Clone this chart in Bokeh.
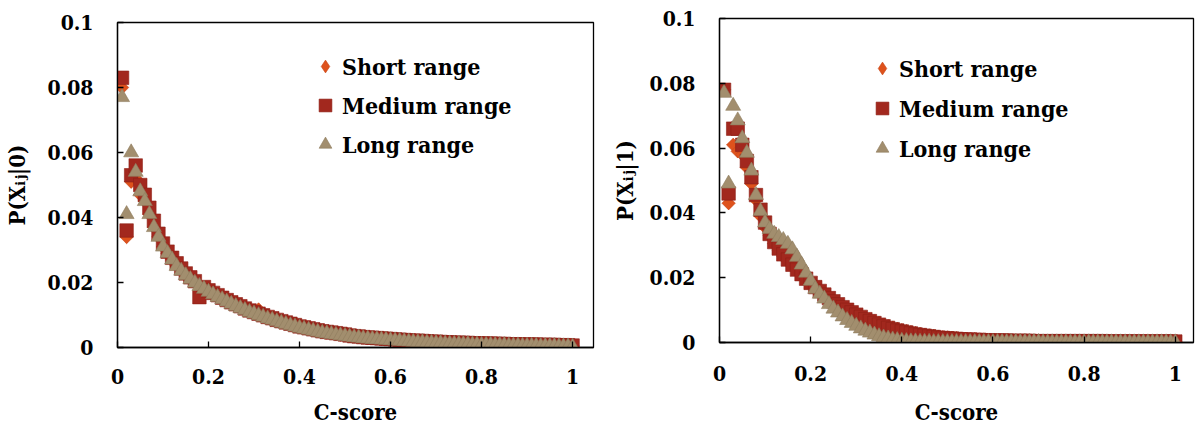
import math
from bokeh.plotting import figure
from bokeh.layouts import row, column
from bokeh.models import Range1d, FixedTicker, Legend, LegendItem
from bokeh.embed import file_html
from bokeh.resources import INLINE

# ---------------- data ----------------
c_score = [
    0.01, 0.02, 0.03, 0.04, 0.05, 0.06, 0.07, 0.08, 0.09, 0.10,
    0.11, 0.12, 0.13, 0.14, 0.15, 0.16, 0.17, 0.18, 0.19, 0.20,
    0.21, 0.22, 0.23, 0.24, 0.25, 0.26, 0.27, 0.28, 0.29, 0.30,
    0.31, 0.32, 0.33, 0.34, 0.35, 0.36, 0.37, 0.38, 0.39, 0.40,
    0.41, 0.42, 0.43, 0.44, 0.45, 0.46, 0.47, 0.48, 0.49, 0.50,
    0.51, 0.52, 0.53, 0.54, 0.55, 0.56, 0.57, 0.58, 0.59, 0.60,
    0.61, 0.62, 0.63, 0.64, 0.65, 0.66, 0.67, 0.68, 0.69, 0.70,
    0.71, 0.72, 0.73, 0.74, 0.75, 0.76, 0.77, 0.78, 0.79, 0.80,
    0.81, 0.82, 0.83, 0.84, 0.85, 0.86, 0.87, 0.88, 0.89, 0.90,
    0.91, 0.92, 0.93, 0.94, 0.95, 0.96, 0.97, 0.98, 0.99, 1.00,
]

# P(Xij|0)
p0_short = [
    0.080, 0.034, 0.051, 0.052, 0.047, 0.045, 0.041, 0.037, 0.034, 0.031,
    0.0290, 0.0270, 0.0252, 0.0237, 0.0223, 0.0211, 0.0200, 0.0190, 0.0181, 0.0172,
    0.0164, 0.0156, 0.0149, 0.0142, 0.0136, 0.0130, 0.0124, 0.0118, 0.0112, 0.0107,
    0.0117, 0.0097, 0.0092, 0.0088, 0.0083, 0.0079, 0.0075, 0.0071, 0.0067, 0.0063,
    0.0060, 0.0057, 0.0054, 0.0051, 0.0049, 0.0046, 0.0044, 0.0042, 0.0040, 0.0038,
    0.0036, 0.0034, 0.0033, 0.0031, 0.0030, 0.0029, 0.0028, 0.0027, 0.0026, 0.0025,
    0.0024, 0.0023, 0.0022, 0.0021, 0.0020, 0.0020, 0.0019, 0.0018, 0.0017, 0.0017,
    0.0016, 0.0015, 0.0015, 0.0014, 0.0014, 0.0013, 0.0013, 0.0012, 0.0012, 0.0011,
    0.0011, 0.0011, 0.0010, 0.0010, 0.0010, 0.0009, 0.0009, 0.0009, 0.0008, 0.0008,
    0.0008, 0.0008, 0.0007, 0.0007, 0.0007, 0.0007, 0.0006, 0.0006, 0.0006, 0.0005,
]
p0_medium = [
    0.083, 0.036, 0.053, 0.056, 0.050, 0.047, 0.043, 0.039, 0.035, 0.032,
    0.0295, 0.0276, 0.0259, 0.0243, 0.0228, 0.0216, 0.0204, 0.0155, 0.0186, 0.0176,
    0.0168, 0.0161, 0.0153, 0.0146, 0.0139, 0.0133, 0.0127, 0.0120, 0.0114, 0.0109,
    0.0104, 0.0099, 0.0094, 0.0090, 0.0085, 0.0081, 0.0077, 0.0073, 0.0069, 0.0065,
    0.0062, 0.0059, 0.0056, 0.0053, 0.0050, 0.0048, 0.0046, 0.0044, 0.0042, 0.0040,
    0.0037, 0.0035, 0.0034, 0.0032, 0.0031, 0.0030, 0.0029, 0.0028, 0.0027, 0.0026,
    0.0025, 0.0024, 0.0023, 0.0022, 0.0021, 0.0021, 0.0020, 0.0019, 0.0018, 0.0018,
    0.0017, 0.0016, 0.0016, 0.0015, 0.0015, 0.0014, 0.0014, 0.0013, 0.0013, 0.0012,
    0.0012, 0.0012, 0.0011, 0.0011, 0.0011, 0.0010, 0.0010, 0.0010, 0.0009, 0.0009,
    0.0009, 0.0009, 0.0008, 0.0008, 0.0008, 0.0008, 0.0007, 0.0007, 0.0007, 0.0006,
]
p0_long = [
    0.077, 0.041, 0.060, 0.054, 0.048, 0.045, 0.041, 0.037, 0.034, 0.031,
    0.0290, 0.0270, 0.0250, 0.0236, 0.0222, 0.0210, 0.0199, 0.0189, 0.0180, 0.0171,
    0.0163, 0.0155, 0.0148, 0.0141, 0.0134, 0.0127, 0.0121, 0.0115, 0.0109, 0.0104,
    0.0099, 0.0094, 0.0089, 0.0085, 0.0080, 0.0076, 0.0072, 0.0068, 0.0064, 0.0060,
    0.0057, 0.0054, 0.0051, 0.0048, 0.0045, 0.0043, 0.0041, 0.0039, 0.0037, 0.0035,
    0.0033, 0.0031, 0.0030, 0.0028, 0.0027, 0.0026, 0.0025, 0.0024, 0.0023, 0.0022,
    0.0021, 0.0020, 0.0019, 0.0018, 0.0017, 0.0016, 0.0016, 0.0015, 0.0014, 0.0013,
    0.0013, 0.0012, 0.0012, 0.0011, 0.0011, 0.0010, 0.0010, 0.0009, 0.0009, 0.0008,
    0.0008, 0.0008, 0.0007, 0.0007, 0.0007, 0.0006, 0.0006, 0.0006, 0.0005, 0.0005,
    0.0005, 0.0005, 0.0004, 0.0004, 0.0004, 0.0004, 0.0003, 0.0003, 0.0003, 0.0002,
]

# P(Xij|1)
p1_short = [
    0.078, 0.043, 0.061, 0.059, 0.058, 0.054, 0.049, 0.044, 0.039, 0.0355,
    0.0330, 0.0305, 0.0285, 0.0267, 0.0251, 0.0236, 0.0222, 0.0209, 0.0196, 0.0184,
    0.0172, 0.0161, 0.0150, 0.0140, 0.0130, 0.0121, 0.0113, 0.0105, 0.0097, 0.0090,
    0.0083, 0.0077, 0.0071, 0.0065, 0.0060, 0.0055, 0.0050, 0.0046, 0.0042, 0.0038,
    0.0035, 0.0032, 0.0029, 0.0026, 0.0024, 0.0022, 0.0020, 0.0018, 0.0016, 0.0015,
    0.0014, 0.0013, 0.0012, 0.0011, 0.0010, 0.0010, 0.0009, 0.0009, 0.0008, 0.0008,
    0.0007, 0.0007, 0.0007, 0.0006, 0.0006, 0.0006, 0.0006, 0.0006, 0.0005, 0.0005,
    0.0005, 0.0005, 0.0005, 0.0005, 0.0005, 0.0005, 0.0005, 0.0005, 0.0005, 0.0005,
    0.0005, 0.0005, 0.0005, 0.0005, 0.0005, 0.0004, 0.0004, 0.0004, 0.0004, 0.0004,
    0.0004, 0.0004, 0.0004, 0.0004, 0.0004, 0.0004, 0.0004, 0.0004, 0.0004, 0.0004,
]
p1_medium = [
    0.078, 0.046, 0.066, 0.066, 0.061, 0.056, 0.051, 0.0455, 0.041, 0.037,
    0.0335, 0.0310, 0.0290, 0.0272, 0.0256, 0.0240, 0.0225, 0.0211, 0.0197, 0.0184,
    0.0171, 0.0159, 0.0148, 0.0137, 0.0127, 0.0118, 0.0109, 0.0101, 0.0093, 0.0086,
    0.0079, 0.0072, 0.0066, 0.0060, 0.0055, 0.0050, 0.0045, 0.0041, 0.0037, 0.0034,
    0.0031, 0.0028, 0.0025, 0.0023, 0.0021, 0.0019, 0.0017, 0.0015, 0.0014, 0.0013,
    0.0012, 0.0011, 0.0010, 0.0009, 0.0009, 0.0008, 0.0008, 0.0007, 0.0007, 0.0006,
    0.0006, 0.0006, 0.0006, 0.0005, 0.0005, 0.0005, 0.0005, 0.0005, 0.0004, 0.0004,
    0.0004, 0.0004, 0.0004, 0.0004, 0.0004, 0.0004, 0.0004, 0.0004, 0.0004, 0.0004,
    0.0004, 0.0004, 0.0004, 0.0004, 0.0003, 0.0003, 0.0003, 0.0003, 0.0003, 0.0003,
    0.0003, 0.0003, 0.0003, 0.0003, 0.0003, 0.0003, 0.0003, 0.0003, 0.0003, 0.0003,
]
p1_long = [
    0.077, 0.049, 0.073, 0.0685, 0.063, 0.0585, 0.053, 0.0455, 0.0405, 0.0370,
    0.0350, 0.0335, 0.0325, 0.0316, 0.0304, 0.0287, 0.0264, 0.0240, 0.0215, 0.0190,
    0.0165, 0.0150, 0.0135, 0.0118, 0.0104, 0.0092, 0.0080, 0.0069, 0.0060, 0.0051,
    0.0043, 0.0036, 0.0030, 0.0024, 0.0019, 0.0015, 0.0012, 0.0009, 0.0007, 0.0005,
    0.0004, 0.0003, 0.0003, 0.0002, 0.0002, 0.0002, 0.0001, 0.0001, 0.0001, 0.0001,
    0.0001, 0.0001, 0.0001, 0.0001, 0.0001, 0.0001, 0.0001, 0.0001, 0.0001, 0.0001,
    0.0001, 0.0001, 0.0001, 0.0001, 0.0001, 0.0001, 0.0001, 0.0001, 0.0001, 0.0001,
    0.0000, 0.0000, 0.0000, 0.0000, 0.0000, 0.0000, 0.0000, 0.0000, 0.0000, 0.0000,
    0.0000, 0.0000, 0.0000, 0.0000, 0.0000, 0.0000, 0.0000, 0.0000, 0.0000, 0.0000,
    0.0000, 0.0000, 0.0000, 0.0000, 0.0000, 0.0000, 0.0000, 0.0000, 0.0000, 0.0000,
]

series_names = ["Short range", "Medium range", "Long range"]
x_ticks = [0, 0.2, 0.4, 0.6, 0.8, 1]
x_tick_labels = ["0", "0.2", "0.4", "0.6", "0.8", "1"]
y_ticks = [0, 0.02, 0.04, 0.06, 0.08, 0.1]
y_tick_labels = ["0", "0.02", "0.04", "0.06", "0.08", "0.1"]
x_title = "C-score"
y_titles = ["P(X\u1d62\u2c7c|0)", "P(X\u1d62\u2c7c|1)"]

# ---------------- style ----------------
FONT = "DejaVu Serif Condensed, DejaVu Serif"
C_SHORT = "#DE521C"
C_MED = "#A2281E"
C_LONG = "#A28E6E"
FIG_W, FIG_H = 600, 427


def make_panel(short, medium, long_, y_title, xmax, bl, bt, bb, leg_loc, leg_spacing,
               ylab_standoff, xtick_standoff, xlab_standoff):
    p = figure(width=FIG_W, height=FIG_H, output_backend="svg", toolbar_location=None,
               title=None,
               x_range=Range1d(0, xmax), y_range=Range1d(0, 0.1),
               min_border_left=bl, min_border_right=7,
               min_border_top=bt, min_border_bottom=bb)
    p.background_fill_color = "white"
    p.border_fill_color = "white"
    p.outline_line_color = "black"
    p.outline_line_width = 1.3
    p.xgrid.visible = False
    p.ygrid.visible = False

    # short range: diamond key (hidden under the rotated squares) + rotated squares
    r1_key = p.scatter(c_score, short, marker="diamond", size=12.5,
                       fill_color=C_SHORT, line_color="#C8461A", line_width=0.6)
    p.scatter(c_score, short, marker="square", angle=math.pi / 4, size=9.5,
              fill_color=C_SHORT, line_color="#C8461A", line_width=0.6)
    r2 = p.scatter(c_score, medium, marker="square", size=13.5,
                   fill_color=C_MED, line_color="#8E2016", line_width=0.6)
    r3 = p.scatter(c_score, long_, marker="triangle", size=15,
                   fill_color=C_LONG, line_color="#8F7C5E", line_width=0.6)

    for ax in (p.xaxis[0], p.yaxis[0]):
        ax.axis_line_color = "black"
        ax.axis_line_width = 1.3
        ax.major_tick_in = 6
        ax.major_tick_out = 0
        ax.major_tick_line_color = "black"
        ax.major_tick_line_width = 1.3
        ax.minor_tick_line_color = None
        ax.major_label_text_font = FONT
        ax.major_label_text_font_style = "bold"
        ax.major_label_text_font_size = "21px"
        ax.major_label_text_color = "black"
        ax.axis_label_text_font = FONT
        ax.axis_label_text_font_style = "bold"
        ax.axis_label_text_font_size = "22px"
        ax.axis_label_text_color = "black"

    p.xaxis.ticker = FixedTicker(ticks=x_ticks)
    p.xaxis.major_label_overrides = {t: s for t, s in zip(x_ticks, x_tick_labels)}
    p.yaxis.ticker = FixedTicker(ticks=y_ticks)
    p.yaxis.major_label_overrides = {t: s for t, s in zip(y_ticks, y_tick_labels)}
    p.yaxis.major_label_standoff = 24
    p.xaxis.major_label_standoff = xtick_standoff
    p.xaxis.axis_label = x_title
    p.xaxis.axis_label_standoff = xlab_standoff
    p.yaxis.axis_label = y_title
    p.yaxis.axis_label_standoff = ylab_standoff

    legend = Legend(items=[LegendItem(label=series_names[0], renderers=[r1_key]),
                           LegendItem(label=series_names[1], renderers=[r2]),
                           LegendItem(label=series_names[2], renderers=[r3])],
                    location=leg_loc, orientation="vertical",
                    background_fill_alpha=0, border_line_alpha=0,
                    padding=0, margin=0, spacing=leg_spacing,
                    glyph_width=32, glyph_height=32, label_height=32,
                    label_standoff=1,
                    label_text_font=FONT, label_text_font_style="bold",
                    label_text_font_size="23px", label_text_color="black")
    p.add_layout(legend)
    return p


left = make_panel(p0_short, p0_medium, p0_long, y_titles[0], 1.046, 117, 22, 80,
                  (192, 187), 7, 14, 21, 12)
right = make_panel(p1_short, p1_medium, p1_long, y_titles[1], 1.04, 119, 18, 85,
                   (147, 178), 8, 8, 23, 15)

# wrap each plot in its own column so the row does not align their frames
layout = row(column(left), column(right))
open("out.html", "w").write(file_html(layout, INLINE))
